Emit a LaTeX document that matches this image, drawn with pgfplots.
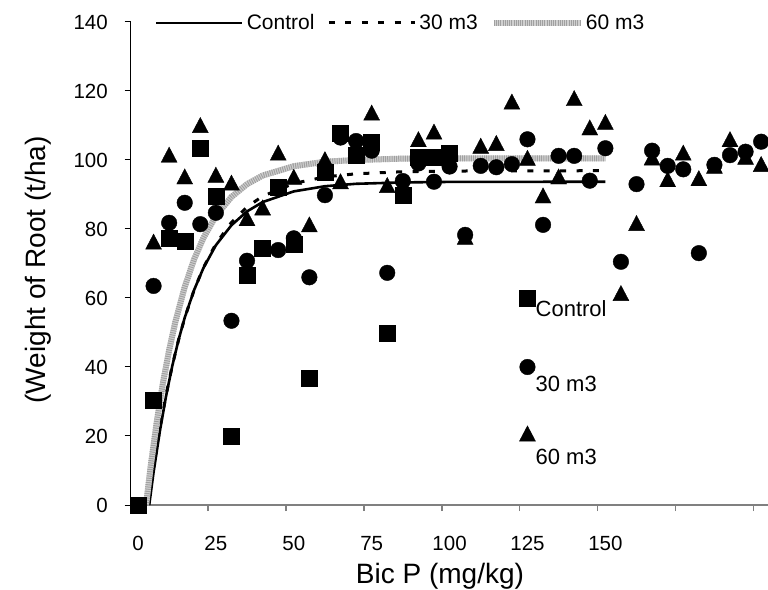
\documentclass[border=0pt]{standalone}
\usepackage{fontspec}
\setmainfont{Liberation Sans}
\usepackage{pgfplots}
\pgfplotsset{compat=1.18}
\definecolor{axgray}{HTML}{808080}
\definecolor{lgray}{HTML}{D0D0D0}
\definecolor{sgray}{HTML}{A0A0A0}
\newcommand\tickfont{\fontsize{20.5}{24}\selectfont}
\newcommand\labelfont{\fontsize{28}{33}\selectfont}
\newcommand\legfont{\fontsize{21}{25}\selectfont}
\newcommand\inplotfont{\fontsize{22}{26}\selectfont}
\begin{document}
\begin{tikzpicture}
\begin{axis}[
  at={(130.7pt,84pt)}, anchor=south west,
  scale only axis, width=637.3pt, height=483pt,
  xmin=-2.34, xmax=202.2, ymin=0, ymax=140,
  axis x line*=bottom, axis y line*=left,
  x axis line style={axgray, line width=2.4pt, -},
  y axis line style={black, line width=1pt, -},
  xtick={0,25,...,150},
  minor xtick={22.5,47.5,...,197.5},
  ytick={0,20,...,140},
  tick align=outside,
  major tick length=6pt, minor tick length=6pt,
  major x tick style={draw=none},
  minor x tick style={axgray, line width=1.5pt},
  y tick style={black, line width=1pt},
  xticklabel style={font=\tickfont, inner sep=0pt, anchor=north, yshift=-25pt},
  yticklabel style={font=\tickfont, inner sep=0pt, anchor=east, xshift=-16.7pt},
  /pgf/number format/assume math mode=true,
  xlabel={Bic P (mg/kg)}, ylabel={(Weight of Root (t/ha)},
  x label style={at={(axis description cs:0.4853,-0.1615)}, anchor=base, inner sep=0pt, font=\labelfont},
  y label style={at={(axis description cs:-0.1235,0.4865)}, rotate=0, anchor=south, inner sep=0pt, font=\labelfont},
  clip=false,
  legend columns=3,
  legend image code/.code={\draw[#1] (0pt,0pt) -- (86pt,0pt);},
  legend style={draw=none, fill=none, at={(axis description cs:0.0381,0.998)}, anchor=west,
    inner sep=0pt, font=\legfont,
    /tikz/every even column/.append style={column sep=10pt},
    nodes={inner sep=3pt}},
]
% fitted response curves
\addplot[black, line width=2.6pt, mark=none] coordinates {
(3.6,0) (5,9.5) (7,21.3) (9,31.5) (11,40.3) (13,47.8) (15,54.3) (18,62.3) (21,68.7) (25,75.3)
(30,81.1) (35,85.1) (40,87.8) (50,90.9) (60,92.4) (70,93.1) (85,93.5) (100,93.65) (150,93.7)};
\addlegendentry{Control}
\addplot[black, line width=3pt, dash pattern=on 6pt off 10.4pt, mark=none] coordinates {
(3.3,0) (5,10.9) (7,22.1) (9,31.9) (11,40.4) (13,47.8) (15,54.2) (18,62.3) (21,68.8) (25,75.7)
(30,81.9) (35,86.4) (40,89.5) (50,93.2) (60,95.1) (70,96.0) (85,96.6) (100,96.8) (150,96.9)};
\addlegendentry{30 m3}
\addplot[lgray, line width=6pt, mark=none,
  postaction={draw, sgray, line width=6pt, dash pattern=on 1pt off 1.2pt}] coordinates {
(2.6,0) (4,10.7) (6,23.9) (8,35.3) (10,44.9) (12,53.1) (15,63.2) (18,71.2) (21,77.4) (25,83.8)
(30,89.3) (35,93.0) (40,95.5) (50,98.2) (60,99.5) (70,100.0) (85,100.4) (100,100.5) (150,100.5)};
\addlegendentry{60 m3}
% Control (squares)
\addplot[only marks, mark=square*, mark size=8pt, black, forget plot] coordinates {
(0,0) (5,30.4) (10,77.3) (15,76.6) (20,103.4) (25,89.4) (30,19.8) (35,66.7) (40,74.4) (45,92.1)
(50,75.5) (55,36.7) (60,96.5) (65,107.7) (70,101.5) (75,105.3) (80,49.9) (85,89.9) (90,100.8)
(95,100.8) (100,102) (125,60)};
% 30 m3 (circles)
\addplot[only marks, mark=*, mark size=7.8pt, black, forget plot] coordinates {
(5,63.5) (10,81.8) (15,87.6) (20,81.4) (25,84.7) (30,53.4) (35,70.8) (45,73.9) (50,77.3) (55,66.0)
(60,89.8) (65,106.5) (70,105.5) (75,102.7) (80,67.3) (85,93.9) (90,99.0) (95,93.7) (100,98.1)
(105,78.3) (110,98.3) (115,97.9) (120,98.8) (125,106.0) (130,81.2) (135,101.2) (140,101.2)
(145,94.0) (150,103.4) (155,70.5) (160,93.0) (165,102.7) (170,98.3) (175,97.3) (180,73.0)
(185,98.6) (190,101.4) (195,102.4) (200,105.3) (125,40)};
% 60 m3 (triangles)
\addplot[only marks, mark=triangle*, mark size=9.2pt, mark options={yscale=1.1}, black, forget plot] coordinates {
(5,75.6) (10,100.8) (15,94.5) (20,109.4) (25,95.0) (30,92.7) (35,82.4) (40,85.5) (45,101.4)
(50,94.4) (55,80.6) (60,99.5) (65,93.1) (75,113.0) (80,92.0) (90,105.3) (95,107.5) (105,77.0)
(110,103.4) (115,104.2) (120,116.2) (125,99.9) (130,89.0) (135,94.5) (140,117.2) (145,108.7)
(150,110.3) (155,60.7) (160,81.0) (165,100.0) (170,93.7) (175,101.4) (180,94.0) (185,97.6)
(190,105.3) (195,100.2) (200,98.1) (125,20)};
\node[anchor=west, inner sep=0pt, font=\inplotfont, xshift=8pt, yshift=-11pt] at (axis cs:125,60) {Control};
\node[anchor=west, inner sep=0pt, font=\inplotfont, xshift=8pt, yshift=-17.4pt] at (axis cs:125,40) {30 m3};
\node[anchor=west, inner sep=0pt, font=\inplotfont, xshift=8pt, yshift=-20.7pt] at (axis cs:125,20) {60 m3};
\end{axis}
\pgfresetboundingbox
\path[use as bounding box] (0,0) rectangle (768pt,589pt);
\end{tikzpicture}
\end{document}
